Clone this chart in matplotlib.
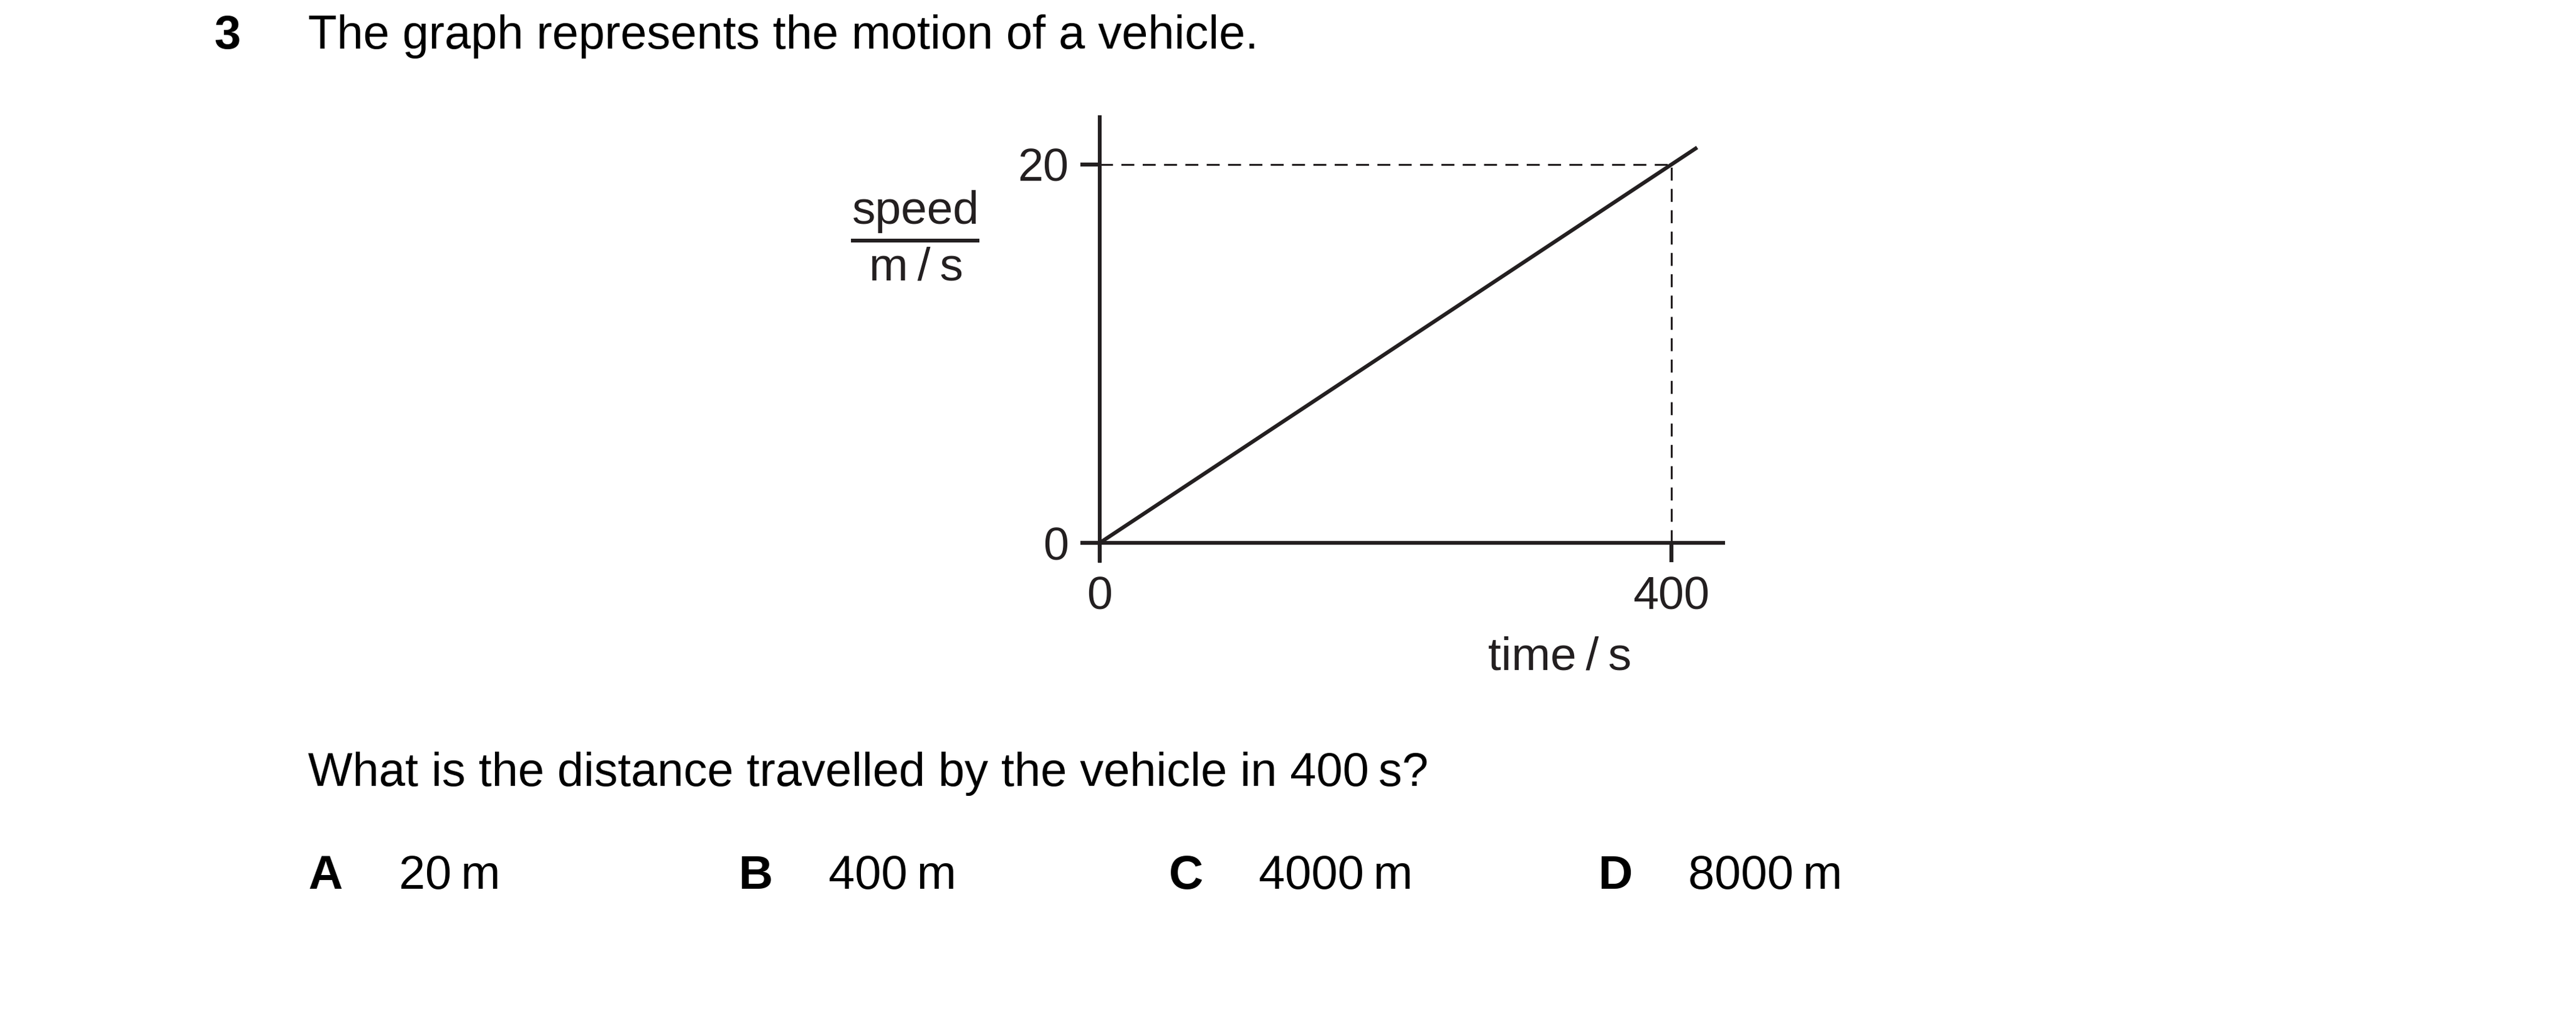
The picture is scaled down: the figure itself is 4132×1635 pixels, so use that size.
import matplotlib
matplotlib.use('Agg')
import matplotlib.pyplot as plt
from matplotlib.lines import Line2D

plt.rcParams['font.family'] = ['Liberation Sans', 'DejaVu Sans']

# data
time_s = [0, 418]
speed_ms = [0, 20.9]
mark_time = 400
mark_speed = 20
xticks = [0, 400]
yticks = [0, 20]

question_no = '3'
stem = 'The graph represents the motion of a vehicle.'
question = 'What is the distance travelled by the vehicle in 400\u2009s?'
option_keys = ['A', 'B', 'C', 'D']
option_vals = ['20\u2009m', '400\u2009m', '4000\u2009m', '8000\u2009m']

ink = '#231f20'
W, H = 4132, 1635
fig = plt.figure(figsize=(W / 100, H / 100), dpi=100)

def fx(px):
    return px / W

def fy(py):
    return 1 - py / H

# axes box = extent of the drawn axis lines
ax = fig.add_axes([fx(1733), fy(903), fx(2767 - 1733), (903 - 185) / H])
ax.set_xlim(-13.5, 437.5)
ax.set_ylim(-1.05, 22.6)

ax.plot(time_s, speed_ms, color=ink, lw=4.4, solid_capstyle='butt', clip_on=False)
ax.plot([0, mark_time], [mark_speed, mark_speed], color=ink, lw=2.2, dashes=(6.8, 4.4))
ax.plot([mark_time, mark_time], [0, mark_speed], color=ink, lw=2.2, dashes=(6.8, 4.4))

for side in ['top', 'right']:
    ax.spines[side].set_visible(False)
ax.spines['left'].set_position(('data', 0))
ax.spines['bottom'].set_position(('data', 0))
for side in ['left', 'bottom']:
    ax.spines[side].set_linewidth(4.3)
    ax.spines[side].set_color(ink)
    ax.spines[side].set_capstyle('butt')

ax.set_xticks(xticks)
ax.set_yticks(yticks)
ax.set_xticklabels([str(v) for v in xticks])
ax.set_yticklabels([str(v) for v in yticks])
ax.tick_params(direction='out', length=22, width=4.6, color=ink,
               labelsize=53, labelcolor=ink)
ax.tick_params(axis='x', pad=16)
ax.tick_params(axis='y', pad=14)
ax.patch.set_visible(False)

# axis labels
fig.text(fx(1469), fy(359), 'speed', fontsize=54, color=ink, ha='center', va='baseline')
fig.add_artist(Line2D([fx(1368), fx(1568)], [fy(386), fy(386)], color=ink, lw=4.3))
fig.text(fx(1469), fy(450), 'm\u2009/\u2009s', fontsize=54, color=ink, ha='center', va='baseline')
fig.text(fx(2502), fy(1074), 'time\u2009/\u2009s', fontsize=54, color=ink, ha='center', va='baseline')

# question text
fig.text(fx(343), fy(78), question_no, fontsize=55, fontweight='bold', color='black', va='baseline')
fig.text(fx(494), fy(78), stem, fontsize=54.5, color='black', va='baseline')
fig.text(fx(494), fy(1261), question, fontsize=54.5, color='black', va='baseline')

key_x = [494, 1185, 1875, 2564]
val_x = [640, 1329, 2019, 2708]
for k, v, kx, vx in zip(option_keys, option_vals, key_x, val_x):
    fig.text(fx(kx), fy(1426), k, fontsize=55, fontweight='bold', color='black', va='baseline')
    fig.text(fx(vx), fy(1426), v, fontsize=54.5, color='black', va='baseline')

fig.savefig('out.png', dpi=100, facecolor='white')
